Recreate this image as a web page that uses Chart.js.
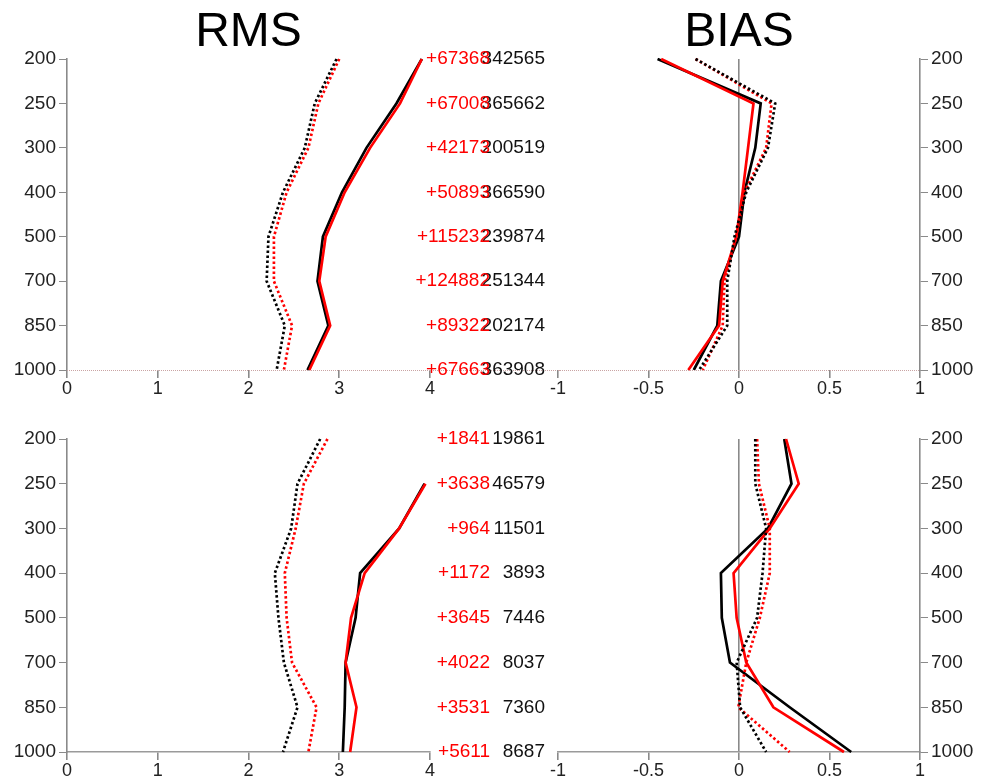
<!DOCTYPE html>
<html>
<head>
<meta charset="utf-8">
<script src="https://cdn.jsdelivr.net/npm/chart.js@4.4.0/dist/chart.umd.min.js"></script>
<style>
  body { margin: 0; background: #fff; }
  #wrap { position: relative; width: 981px; height: 780px; overflow: hidden; }
  canvas { position: absolute; }
</style>
</head>
<body>
<div id="wrap">
  <canvas id="rms-top" width="560" height="400" style="left:0;top:0"></canvas>
  <canvas id="bias-top" width="491" height="400" style="left:490px;top:0"></canvas>
  <canvas id="rms-bot" width="560" height="390" style="left:0;top:390px"></canvas>
  <canvas id="bias-bot" width="491" height="390" style="left:490px;top:390px"></canvas>
</div>
<script>
// niveles de presión (hPa)
const niveles = ['200', '250', '300', '400', '500', '700', '850', '1000'];

// panel superior
const rmsSupNegro = [3.91, 3.63, 3.30, 3.03, 2.82, 2.76, 2.88, 2.65];
const rmsSupRojo = [3.91, 3.67, 3.34, 3.06, 2.85, 2.78, 2.90, 2.67];
const rmsSupNegroPunt = [2.97, 2.73, 2.62, 2.38, 2.22, 2.20, 2.40, 2.31];
const rmsSupRojoPunt = [3.00, 2.77, 2.66, 2.42, 2.28, 2.28, 2.48, 2.39];

const biasSupNegro = [-0.45, 0.12, 0.09, 0.03, 0.0, -0.10, -0.12, -0.25];
const biasSupRojo = [-0.43, 0.08, 0.05, 0.02, -0.015, -0.09, -0.11, -0.28];
const biasSupNegroPunt = [-0.24, 0.20, 0.16, 0.04, -0.025, -0.065, -0.065, -0.22];
const biasSupRojoPunt = [-0.24, 0.18, 0.15, 0.03, -0.015, -0.08, -0.09, -0.20];

const cuentasSupRojo = ['+67368', '+67008', '+42173', '+50893', '+115232', '+124882', '+89322', '+67663'];
const cuentasSupNegro = ['342565', '365662', '200519', '366590', '239874', '251344', '202174', '363908'];

// panel inferior
const rmsInfNegro = [null, 3.94, 3.66, 3.23, 3.18, 3.07, 3.06, 3.04];
const rmsInfRojo = [null, 3.95, 3.66, 3.28, 3.13, 3.07, 3.19, 3.12];
const rmsInfNegroPunt = [2.79, 2.54, 2.47, 2.29, 2.33, 2.39, 2.54, 2.38];
const rmsInfRojoPunt = [2.87, 2.61, 2.52, 2.40, 2.42, 2.48, 2.75, 2.66];

const biasInfNegro = [0.25, 0.29, 0.16, -0.10, -0.095, -0.05, 0.28, 0.62];
const biasInfRojo = [0.26, 0.33, 0.17, -0.03, -0.013, 0.04, 0.19, 0.58];
const biasInfNegroPunt = [0.09, 0.09, 0.15, 0.13, 0.10, -0.013, 0.006, 0.15];
const biasInfRojoPunt = [0.10, 0.11, 0.17, 0.17, 0.115, 0.04, -0.004, 0.28];

const cuentasInfRojo = ['+1841', '+3638', '+964', '+1172', '+3645', '+4022', '+3531', '+5611'];
const cuentasInfNegro = ['19861', '46579', '11501', '3893', '7446', '8037', '7360', '8687'];

const FUENTE = "'Liberation Sans', Arial, Helvetica, sans-serif";
const GRIS = '#8a8a8a';

function series(negro, rojo, negroPunt, rojoPunt) {
  const base = { pointRadius: 0, borderWidth: 2.7, fill: false, tension: 0 };
  return [
    { ...base, label: 'a', data: negroPunt, borderColor: '#000', borderDash: [2.5, 2.5] },
    { ...base, label: 'b', data: rojoPunt, borderColor: '#ff0000', borderDash: [2.5, 2.5] },
    { ...base, label: 'c', data: rojo, borderColor: '#ff0000' },
    { ...base, label: 'd', data: negro, borderColor: '#000' }
  ];
}

// título, línea base y conteos alrededor del área del gráfico
const extras = {
  id: 'extras',
  afterDraw(chart, args, opts) {
    const ctx = chart.ctx;
    const area = chart.chartArea;
    ctx.save();
    if (opts.titulo) {
      ctx.font = '48px ' + FUENTE;
      ctx.fillStyle = '#000';
      ctx.textAlign = 'center';
      ctx.textBaseline = 'middle';
      ctx.fillText(opts.titulo, (area.left + area.right) / 2, area.top - 26);
    }
    if (opts.lineaBase) {
      // línea punteada tenue a lo largo del eje inferior
      ctx.strokeStyle = '#c9a4a4';
      ctx.lineWidth = 1;
      ctx.setLineDash([1, 1]);
      ctx.beginPath();
      ctx.moveTo(opts.lineaBase[0], area.bottom + 0.5);
      ctx.lineTo(opts.lineaBase[1], area.bottom + 0.5);
      ctx.stroke();
      ctx.setLineDash([]);
    }
    if (opts.rojos) {
      const y = chart.scales.y;
      ctx.font = '19px ' + FUENTE;
      ctx.textAlign = 'right';
      ctx.textBaseline = 'middle';
      niveles.forEach((n, i) => {
        const py = y.getPixelForValue(i);
        ctx.fillStyle = '#111';
        ctx.fillText(opts.negros[i], 545, py);
        ctx.fillStyle = '#ff0000';
        ctx.fillText(opts.rojos[i], 490, py);
      });
    }
    ctx.restore();
  }
};

function crearPanel(id, cfg) {
  const esBias = cfg.tipo === 'bias';
  const alto = cfg.alto;
  return new Chart(document.getElementById(id), {
    type: 'line',
    data: { labels: niveles, datasets: cfg.datasets },
    options: {
      indexAxis: 'y',
      responsive: false,
      animation: false,
      devicePixelRatio: 1,
      layout: { padding: cfg.padding },
      plugins: {
        legend: { display: false },
        tooltip: { enabled: false },
        extras: cfg.extras
      },
      scales: {
        x: {
          type: 'linear',
          min: esBias ? -1 : 0,
          max: esBias ? 1 : 4,
          ticks: {
            stepSize: esBias ? 0.5 : 1,
            padding: 0,
            color: '#222',
            font: { family: FUENTE, size: 18 },
            callback: v => String(v)
          },
          grid: {
            drawOnChartArea: esBias,
            color: c => (esBias && c.tick && c.tick.value === 0) ? GRIS : 'rgba(0,0,0,0)',
            lineWidth: 1.6,
            tickColor: GRIS,
            tickLength: 8
          },
          // en los paneles superiores el eje lo traza la línea punteada del plugin
          border: cfg.arriba
            ? { display: false }
            : { color: '#9a9a9a', width: 1.6 },
          afterFit: s => { s.height = alto - cfg.abajo; }
        },
        y: {
          type: 'category',
          labels: niveles,
          offset: false,
          position: esBias ? 'right' : 'left',
          ticks: {
            padding: 3,
            color: '#222',
            font: { family: FUENTE, size: 19 }
          },
          grid: { drawOnChartArea: false, tickLength: 8, tickColor: GRIS, color: GRIS },
          border: { color: GRIS, width: 1.6 },
          afterFit: s => { s.width = esBias ? 61 : 67; }
        }
      }
    },
    plugins: [extras]
  });
}

crearPanel('rms-top', {
  tipo: 'rms', alto: 400, abajo: 370, arriba: true,
  padding: { left: 0, right: 130, top: 59, bottom: 0 },
  datasets: series(rmsSupNegro, rmsSupRojo, rmsSupNegroPunt, rmsSupRojoPunt),
  extras: { titulo: 'RMS', lineaBase: [67, 560], rojos: cuentasSupRojo, negros: cuentasSupNegro }
});

crearPanel('bias-top', {
  tipo: 'bias', alto: 400, abajo: 370, arriba: true,
  padding: { left: 68, right: 0, top: 59, bottom: 0 },
  datasets: series(biasSupNegro, biasSupRojo, biasSupNegroPunt, biasSupRojoPunt),
  extras: { titulo: 'BIAS', lineaBase: [68, 430] }
});

crearPanel('rms-bot', {
  tipo: 'rms', alto: 390, abajo: 362, arriba: false,
  padding: { left: 0, right: 130, top: 49, bottom: 0 },
  datasets: series(rmsInfNegro, rmsInfRojo, rmsInfNegroPunt, rmsInfRojoPunt),
  extras: { rojos: cuentasInfRojo, negros: cuentasInfNegro }
});

crearPanel('bias-bot', {
  tipo: 'bias', alto: 390, abajo: 362, arriba: false,
  padding: { left: 68, right: 0, top: 49, bottom: 0 },
  datasets: series(biasInfNegro, biasInfRojo, biasInfNegroPunt, biasInfRojoPunt),
  extras: {}
});
</script>
</body>
</html>
